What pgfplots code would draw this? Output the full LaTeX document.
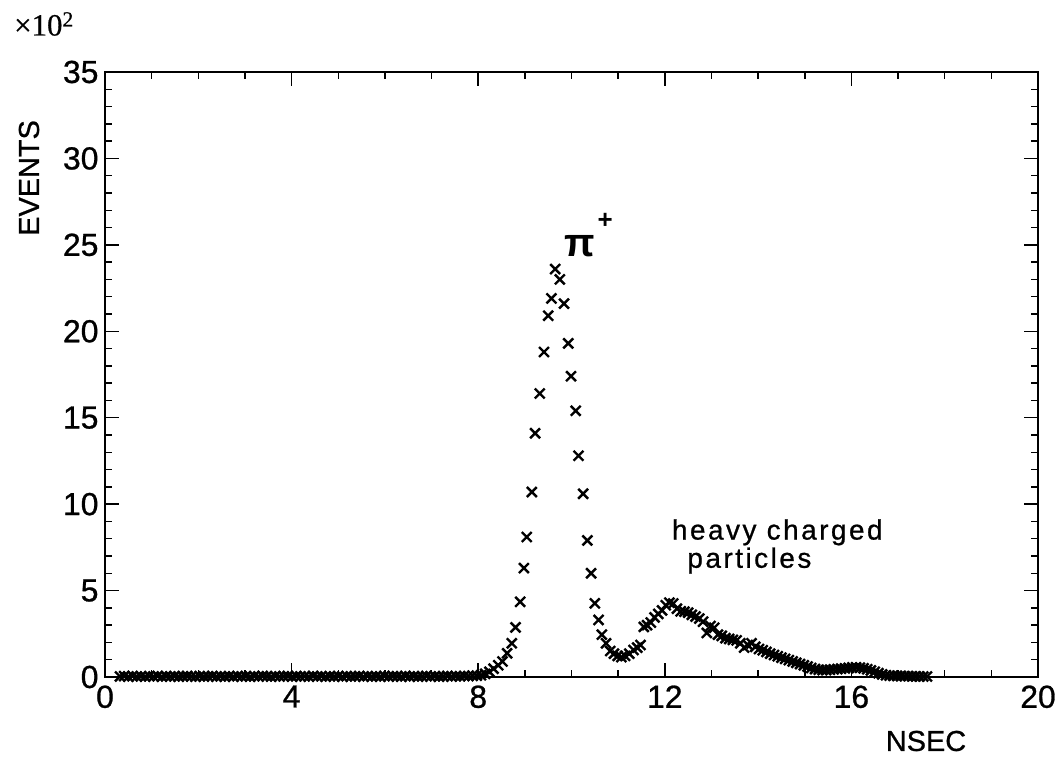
\documentclass[border=0pt]{standalone}
\usepackage{pgfplots}
\pgfplotsset{compat=1.18}
\usepackage{pgfplotstable}
\usepackage{fontspec}
\setmainfont{Liberation Sans}
\newfontfamily\seriffont[FakeBold=0.6]{Liberation Serif}
\newfontfamily\plotfont[FakeBold=0.8]{Liberation Sans}
\newfontfamily\spacedfont[LetterSpace=9,FakeBold=0.8]{Liberation Sans}

% time-of-flight spectrum: channel time (ns), events (x 10^2)
\pgfplotstableread{
t n
0.32 0.03
0.41 0.05
0.50 0.02
0.59 0.06
0.68 0.03
0.77 0.04
0.86 0.02
0.95 0.05
1.04 0.03
1.13 0.06
1.22 0.02
1.31 0.04
1.40 0.03
1.49 0.05
1.58 0.02
1.67 0.04
1.76 0.06
1.85 0.03
1.94 0.02
2.03 0.05
2.12 0.03
2.21 0.04
2.30 0.06
2.39 0.02
2.48 0.04
2.57 0.03
2.66 0.05
2.75 0.02
2.84 0.06
2.93 0.03
3.02 0.04
3.11 0.02
3.20 0.05
3.29 0.03
3.38 0.06
3.47 0.04
3.56 0.02
3.65 0.05
3.74 0.03
3.83 0.04
3.92 0.06
4.01 0.02
4.10 0.05
4.19 0.03
4.28 0.04
4.37 0.02
4.46 0.06
4.55 0.03
4.64 0.05
4.73 0.02
4.82 0.04
4.91 0.03
5.00 0.06
5.09 0.02
5.18 0.05
5.27 0.03
5.36 0.04
5.45 0.06
5.54 0.02
5.63 0.05
5.72 0.03
5.81 0.04
5.90 0.02
5.99 0.06
6.08 0.03
6.17 0.05
6.26 0.04
6.35 0.02
6.44 0.06
6.53 0.03
6.62 0.05
6.71 0.02
6.80 0.04
6.89 0.06
6.98 0.03
7.07 0.05
7.16 0.02
7.25 0.04
7.34 0.06
7.43 0.03
7.52 0.05
7.61 0.04
7.70 0.06
7.79 0.05
7.88 0.07
7.97 0.08
8.06 0.10
8.15 0.18
8.24 0.30
8.33 0.48
8.43 0.68
8.52 0.90
8.62 1.37
8.72 1.95
8.80 2.87
8.90 4.35
8.98 6.3
9.04 8.1
9.15 10.7
9.22 14.1
9.32 16.4
9.41 18.8
9.50 20.9
9.57 21.9
9.65 23.6
9.75 23.0
9.84 21.6
9.93 19.3
9.99 17.4
10.09 15.4
10.15 12.8
10.25 10.6
10.34 7.9
10.42 6.0
10.50 4.26
10.58 3.3
10.65 2.45
10.74 1.95
10.83 1.50
10.91 1.35
10.99 1.22
11.07 1.15
11.15 1.22
11.24 1.35
11.33 1.56
11.41 1.70
11.48 1.85
11.55 2.90
11.62 3.00
11.70 3.15
11.78 3.45
11.86 3.65
11.94 3.85
12.02 4.15
12.10 4.30
12.18 4.25
12.26 3.95
12.34 3.80
12.42 3.78
12.50 3.72
12.58 3.60
12.66 3.50
12.74 3.38
12.82 3.20
12.90 2.55
12.98 2.95
13.06 2.85
13.14 2.45
13.22 2.38
13.30 2.25
13.38 2.20
13.46 2.15
13.54 2.12
13.62 1.95
13.70 1.70
13.78 1.85
13.86 1.95
13.94 1.75
14.02 1.62
14.10 1.55
14.18 1.45
14.26 1.35
14.34 1.27
14.42 1.20
14.50 1.12
14.58 1.05
14.66 0.98
14.74 0.90
14.82 0.82
14.90 0.75
14.98 0.68
15.06 0.60
15.14 0.52
15.22 0.46
15.30 0.42
15.38 0.40
15.46 0.40
15.54 0.42
15.62 0.44
15.70 0.46
15.78 0.48
15.86 0.50
15.94 0.52
16.02 0.55
16.10 0.56
16.18 0.54
16.26 0.50
16.34 0.45
16.42 0.38
16.50 0.30
16.58 0.22
16.66 0.15
16.74 0.10
16.82 0.08
16.90 0.07
16.98 0.06
17.06 0.06
17.14 0.05
17.22 0.05
17.30 0.04
17.38 0.04
17.46 0.03
17.54 0.03
17.62 0.03
}\tofdata

\begin{document}
\begin{tikzpicture}
\path[use as bounding box] (0,0) rectangle (1062bp,762bp);
\begin{axis}[
  at={(105bp,85bp)}, anchor=south west,
  scale only axis, width=933bp, height=605bp,
  xmin=0, xmax=20, ymin=0, ymax=35,
  xtick={0,4,...,20},
  minor xtick={1,2,3,5,6,7,9,10,11,13,14,15,17,18,19},
  ytick={0,5,...,35},
  minor ytick={1,...,34},
  tick align=inside,
  major tick length=14bp, minor tick length=7bp,
  every tick/.style={black, line width=1.5bp},
  axis line style={line width=2.5bp, black},
  /pgf/number format/assume math mode=true,
  tick label style={font=\fontsize{32}{32}\plotfont},
  xticklabel style={yshift=-5bp},
  yticklabel style={xshift=-3bp},
  clip=false,
]
\addplot[only marks, mark=x, mark size=7bp, black,
  mark options={line width=2.4bp}] table[x=t, y=n] {\tofdata};

\node[font=\fontsize{40}{40}\selectfont\bfseries] at (axis cs:10.18,24.95) {π};
\node[font=\fontsize{26}{26}\selectfont\bfseries] at (axis cs:10.72,26.4) {+};
\node[anchor=base west, inner sep=0pt, font=\fontsize{28}{28}\spacedfont] at (axis cs:12.15,7.95) {heavy charged};
\node[anchor=base west, inner sep=0pt, font=\fontsize{28}{28}\spacedfont] at (axis cs:12.48,6.32) {particles};
\end{axis}

\node[rotate=90, font=\fontsize{29}{29}\plotfont] at (29bp,584bp) {EVENTS};
\node[font=\fontsize{29}{29}\plotfont] at (926bp,21bp) {NSEC};
\node[font=\fontsize{31}{31}\seriffont] at (44bp,738bp) {×10\textsuperscript{2}};
\end{tikzpicture}
\end{document}
